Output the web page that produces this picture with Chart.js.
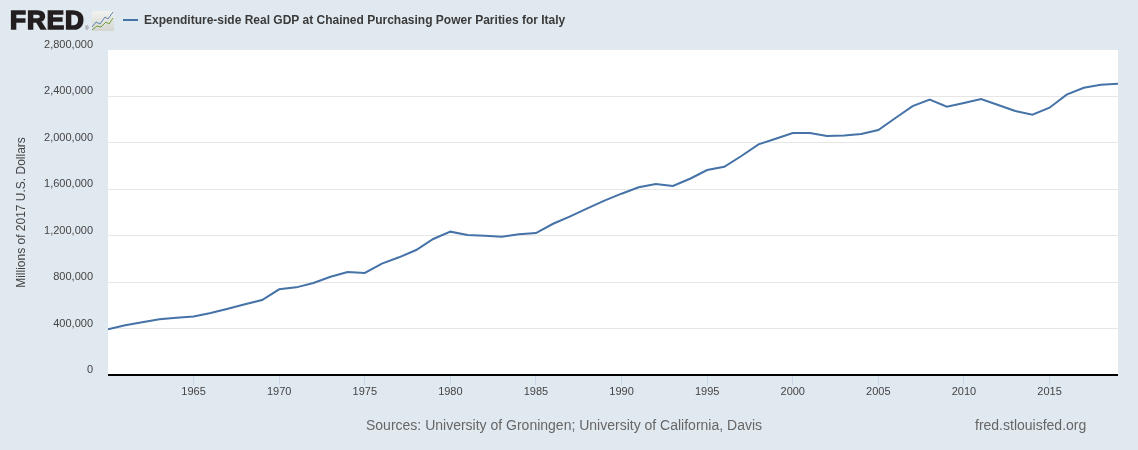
<!DOCTYPE html>
<html>
<head>
<meta charset="utf-8">
<title>FRED</title>
<script src="https://cdn.jsdelivr.net/npm/chart.js@4"></script>
<style>
html, body { margin: 0; padding: 0; background: #e1e9f0; overflow: hidden; }
#wrap { position: relative; width: 1138px; height: 450px; font-family: "Liberation Sans", sans-serif; }
#wrap div, #wrap svg { position: absolute; }
#logo { left: 10px; top: 7px; font-size: 26px; line-height: 26px; font-weight: bold; color: #231f20; -webkit-text-stroke: 1.7px #231f20; letter-spacing: 1px; }
#reg { left: 85px; top: 26px; font-size: 5px; line-height: 5px; color: #555; }
#icon { left: 92px; top: 11px; }
#dash { left: 123px; top: 19px; width: 15px; height: 2px; background: #4572a7; }
#legend { left: 144px; top: 13px; font-size: 12px; line-height: 14px; font-weight: bold; color: #3a3a3a; white-space: nowrap; }
#source { left: 366px; top: 417px; font-size: 14px; line-height: 16px; color: #666; white-space: nowrap; }
#site { left: 975px; top: 417px; font-size: 14px; line-height: 16px; color: #666; white-space: nowrap; }
</style>
</head>
<body>
<div id="wrap">
    <canvas id="chart" width="1138" height="450"></canvas>
    <div id="logo">FRED</div>
    <div id="reg">®</div>
    <svg id="icon" width="22" height="20" viewBox="0 0 22 20">
        <defs>
            <linearGradient id="iconBg" x1="0" y1="0" x2="0" y2="1">
                <stop offset="0" stop-color="#f2f2f0"/>
                <stop offset="1" stop-color="#d4d4d0"/>
            </linearGradient>
        </defs>
        <rect width="22" height="20" rx="2" fill="url(#iconBg)"/>
        <polyline points="0,16 4,11 8,13 13,6 16,8 21,1" fill="none" stroke="#5b85ad" stroke-width="1"/>
        <polyline points="0,19 5,15 9,16 14,11 17,13 21,7" fill="none" stroke="#6fa03c" stroke-width="1"/>
    </svg>
    <div id="dash"></div>
    <div id="legend">Expenditure-side Real GDP at Chained Purchasing Power Parities for Italy</div>
    <div id="source">Sources: University of Groningen; University of California, Davis</div>
    <div id="site">fred.stlouisfed.org</div>
</div>
<script>
const years = [1960, 1961, 1962, 1963, 1964, 1965, 1966, 1967, 1968, 1969,
    1970, 1971, 1972, 1973, 1974, 1975, 1976, 1977, 1978, 1979,
    1980, 1981, 1982, 1983, 1984, 1985, 1986, 1987, 1988, 1989,
    1990, 1991, 1992, 1993, 1994, 1995, 1996, 1997, 1998, 1999,
    2000, 2001, 2002, 2003, 2004, 2005, 2006, 2007, 2008, 2009,
    2010, 2011, 2012, 2013, 2014, 2015, 2016, 2017, 2018, 2019];
const gdp = [394000, 428000, 454000, 480000, 494000, 505000, 534000, 571000, 609000, 646000,
    738000, 755000, 793000, 847000, 887000, 879000, 959000, 1014000, 1077000, 1172000,
    1235000, 1206000, 1200000, 1191000, 1212000, 1223000, 1303000, 1367000, 1436000, 1502000,
    1562000, 1617000, 1645000, 1628000, 1691000, 1766000, 1794000, 1887000, 1987000, 2036000,
    2085000, 2085000, 2059000, 2063000, 2076000, 2111000, 2214000, 2317000, 2372000, 2311000,
    2343000, 2378000, 2326000, 2274000, 2243000, 2303000, 2415000, 2475000, 2501000, 2509000];
const xTicks = [1965, 1970, 1975, 1980, 1985, 1990, 1995, 2000, 2005, 2010, 2015];
const yTicks = [0, 400000, 800000, 1200000, 1600000, 2000000, 2400000, 2800000];
const yTitle = 'Millions of 2017 U.S. Dollars';
const seriesName = 'Expenditure-side Real GDP at Chained Purchasing Power Parities for Italy';

// white plot area behind the grid, black base line on top
const plotFrame = {
    id: 'plotFrame',
    beforeDraw(chart) {
        const a = chart.chartArea;
        chart.ctx.fillStyle = '#ffffff';
        chart.ctx.fillRect(a.left, a.top, a.right - a.left, a.bottom - a.top);
    },
    afterDraw(chart) {
        const a = chart.chartArea;
        chart.ctx.fillStyle = '#000000';
        chart.ctx.fillRect(a.left, a.bottom - 1, a.right - a.left, 2);
    }
};

const tickFont = {family: '"Liberation Sans", sans-serif', size: 11};

new Chart(document.getElementById('chart').getContext('2d'), {
    type: 'line',
    data: {
        datasets: [{
            label: seriesName,
            data: years.map((y, i) => ({x: y, y: gdp[i]})),
            borderColor: '#4572a7',
            borderWidth: 2,
            pointRadius: 0,
            tension: 0
        }]
    },
    options: {
        responsive: false,
        animation: false,
        layout: {padding: {top: 50, right: 20, left: 0, bottom: 0}},
        plugins: {legend: {display: false}, title: {display: false}, tooltip: {enabled: false}},
        scales: {
            x: {
                type: 'linear',
                min: 1960,
                max: 2019,
                afterBuildTicks: s => { s.ticks = xTicks.map(v => ({value: v})); },
                afterFit: s => { s.height = 75; },
                grid: {drawOnChartArea: false, drawTicks: true, tickLength: 10, tickColor: '#ccd6eb'},
                border: {display: false},
                ticks: {
                    autoSkip: false,
                    maxRotation: 0,
                    padding: 0,
                    color: '#444',
                    font: tickFont,
                    callback: v => String(v)
                }
            },
            y: {
                min: 0,
                max: 2800000,
                afterBuildTicks: s => { s.ticks = yTicks.map(v => ({value: v})); },
                afterFit: s => { s.width = 108; },
                grid: {
                    drawTicks: false,
                    color: c => (c.tick.value === 0 || c.tick.value === 2800000) ? 'rgba(0,0,0,0)' : '#e6e6e6'
                },
                border: {display: false},
                title: {
                    display: true,
                    text: yTitle,
                    color: '#444',
                    font: {family: '"Liberation Sans", sans-serif', size: 12},
                    padding: {top: 14, bottom: 0}
                },
                ticks: {
                    autoSkip: false,
                    padding: 15,
                    labelOffset: -5,
                    color: '#444',
                    font: tickFont,
                    callback: v => v.toLocaleString('en-US')
                }
            }
        }
    },
    plugins: [plotFrame]
});
</script>
</body>
</html>
